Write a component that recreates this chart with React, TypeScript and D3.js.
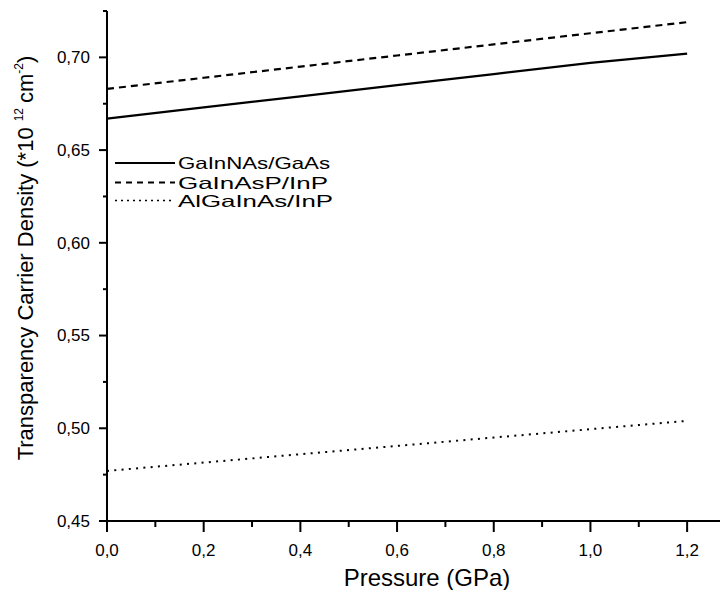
import React from "react";
import * as d3 from "d3";

const pressure = [0, 0.2, 0.4, 0.6, 0.8, 1.0, 1.2];
const gainnas = [0.667, 0.673, 0.679, 0.685, 0.691, 0.697, 0.702];
const gainasp = [0.683, 0.689, 0.695, 0.701, 0.707, 0.713, 0.719];
const algainas = [0.477, 0.4815, 0.486, 0.4905, 0.495, 0.4995, 0.504];
const seriesNames = ["GaInNAs/GaAs", "GaInAsP/InP", "AlGaInAs/InP"];
const xTicks = [0, 0.2, 0.4, 0.6, 0.8, 1.0, 1.2];
const xMinor = [0.1, 0.3, 0.5, 0.7, 0.9, 1.1];
const yTicks = [0.45, 0.5, 0.55, 0.6, 0.65, 0.7];
const yMinor = [0.475, 0.525, 0.575, 0.625, 0.675, 0.725];

const W = 721;
const H = 590;
const FONT = "'Liberation Sans', Arial, Helvetica, sans-serif";

export default function App() {
  const x = d3.scaleLinear().domain([0, 1.268]).range([107, 720]);
  const y = d3.scaleLinear().domain([0.45, 0.725]).range([521, 11]);
  const fmtX = (v: number) => d3.format(".1f")(v).replace(".", ",");
  const fmtY = (v: number) => d3.format(".2f")(v).replace(".", ",");
  const line = d3
    .line<number>()
    .x((_, i) => x(pressure[i]))
    .y((d) => y(d));
  const series = [gainnas, gainasp, algainas];
  const dashes = [undefined, "7 5", "2 5.3"];
  const legendY = [163, 182.5, 200.5];

  return (
    <svg
      width={W}
      height={H}
      style={{ position: "absolute", left: 0, top: 0, background: "#fff" }}
      fontFamily={FONT}
    >
      <rect x={0} y={0} width={W} height={H} fill="#fff" />
      {/* axes */}
      <line x1={x(0)} x2={x(0)} y1={y(0.725)} y2={y(0.45)} stroke="#000" strokeWidth={2} />
      <line x1={x(0) - 1} x2={720} y1={y(0.45)} y2={y(0.45)} stroke="#000" strokeWidth={2} />
      {yTicks.map((t) => (
        <g key={"yt" + t}>
          <line x1={x(0) - 8} x2={x(0)} y1={y(t)} y2={y(t)} stroke="#000" strokeWidth={2} />
          <text x={90} y={y(t)} dy="0.35em" textAnchor="end" fontSize={17}>
            {fmtY(t)}
          </text>
        </g>
      ))}
      {yMinor.map((t) => (
        <line key={"ym" + t} x1={x(0) - 4} x2={x(0)} y1={y(t)} y2={y(t)} stroke="#000" strokeWidth={2} />
      ))}
      {xTicks.map((t) => (
        <g key={"xt" + t}>
          <line x1={x(t)} x2={x(t)} y1={y(0.45)} y2={y(0.45) + 11} stroke="#000" strokeWidth={2} />
          <text x={x(t)} y={556} textAnchor="middle" fontSize={17}>
            {fmtX(t)}
          </text>
        </g>
      ))}
      {xMinor.map((t) => (
        <line key={"xm" + t} x1={x(t)} x2={x(t)} y1={y(0.45)} y2={y(0.45) + 6} stroke="#000" strokeWidth={2} />
      ))}
      {/* titles */}
      <text x={427} y={586} textAnchor="middle" fontSize={24}>
        Pressure (GPa)
      </text>
      <text transform="translate(33,258) rotate(-90)" textAnchor="middle" fontSize={22}>
        <tspan>Transparency Carrier Density (*10</tspan>
        <tspan dx={6} dy={-10} fontSize={12}>12</tspan>
        <tspan dx={5} dy={10}>cm</tspan>
        <tspan dy={-10} fontSize={12}>-2</tspan>
        <tspan dy={10}>)</tspan>
      </text>
      {/* lines */}
      {series.map((s, i) => (
        <path
          key={"s" + i}
          d={line(s) || ""}
          fill="none"
          stroke="#000"
          strokeWidth={i === 2 ? 2 : 2.2}
          strokeDasharray={dashes[i]}
        />
      ))}
      {/* legend */}
      {seriesNames.map((n, i) => (
        <g key={"lg" + i}>
          <line
            x1={115}
            x2={175}
            y1={legendY[i]}
            y2={legendY[i]}
            stroke="#000"
            strokeWidth={i === 2 ? 1.5 : 2}
            strokeDasharray={i === 1 ? "6 5" : i === 2 ? "2 4" : undefined}
          />
          <text x={178} y={legendY[i] + 6} fontSize={16.5} textLength={[152, 150, 155][i]} lengthAdjust="spacingAndGlyphs">
            {n}
          </text>
        </g>
      ))}
    </svg>
  );
}
